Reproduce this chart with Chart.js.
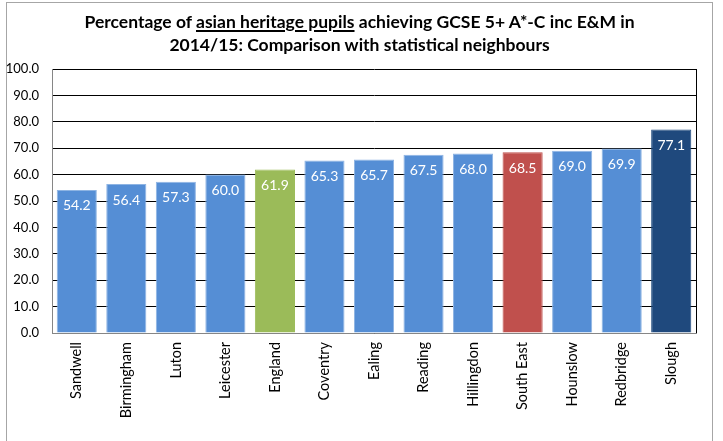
<!DOCTYPE html>
<html>
<head>
<meta charset="utf-8">
<script src="https://cdn.jsdelivr.net/npm/chart.js@4/dist/chart.umd.min.js"></script>
<style>
  html, body { margin: 0; padding: 0; background: #fff; }
  #wrap { position: relative; width: 723px; height: 441px; overflow: hidden; }
  #frame { position: absolute; left: 6px; top: 2px; width: 707px; height: 460px; border: 1px solid #a6a6a6; box-sizing: border-box; }
  #title { position: absolute; left: 7px; width: 705px; top: 10px; text-align: center;
           font-family: Lato, "Open Sans", sans-serif; font-weight: bold; font-size: 17.5px; line-height: 23px; color: #000; }
  #title u { text-decoration-thickness: 1.5px; text-underline-offset: 2px; }
  canvas { position: absolute; left: 0; top: 0; }
</style>
</head>
<body>
<div id="wrap">
  <div id="frame"></div>
  <canvas id="c" width="723" height="441"></canvas>
  <div id="title">Percentage of <u>asian heritage pupils</u> achieving GCSE 5+ A*-C inc E&amp;M in<br>2014/15: Comparison with statistical neighbours</div>
</div>
<script>
const categories = ["Sandwell","Birmingham","Luton","Leicester","England","Coventry","Ealing","Reading","Hillingdon","South East","Hounslow","Redbridge","Slough"];
const values = [54.2, 56.4, 57.3, 60.0, 61.9, 65.3, 65.7, 67.5, 68.0, 68.5, 69.0, 69.9, 77.1];
const barColors = ["#558ED5","#558ED5","#558ED5","#558ED5","#9BBB59","#558ED5","#558ED5","#558ED5","#558ED5","#C0504D","#558ED5","#558ED5","#1F497D"];
const borderColors = ["#8EB4E3","#8EB4E3","#8EB4E3","#8EB4E3","#9BBB59","#8EB4E3","#8EB4E3","#8EB4E3","#8EB4E3","#C0504D","#8EB4E3","#8EB4E3","#1F497D"];
const yTicks = [0,10,20,30,40,50,60,70,80,90,100];

const FONT = "Lato, 'Open Sans', sans-serif";

const boxPlugin = {
  id: 'box',
  beforeDatasetsDraw(chart) {
    const {ctx, chartArea: a} = chart;
    ctx.save();
    ctx.strokeStyle = '#000';
    ctx.lineWidth = 1;
    ctx.beginPath();
    ctx.moveTo(Math.round(a.right) + 0.5, a.top);
    ctx.lineTo(Math.round(a.right) + 0.5, a.bottom);
    ctx.stroke();
    ctx.restore();
  }
};

const labelPlugin = {
  id: 'vals',
  afterDatasetsDraw(chart) {
    const {ctx} = chart;
    const meta = chart.getDatasetMeta(0);
    ctx.save();
    ctx.fillStyle = '#ffffff';
    ctx.font = "14px " + FONT;
    ctx.textAlign = 'center';
    ctx.textBaseline = 'middle';
    meta.data.forEach((bar, i) => {
      ctx.fillText(values[i].toFixed(1), bar.x, bar.y + 16);
    });
    ctx.restore();
  }
};

new Chart(document.getElementById('c'), {
  type: 'bar',
  data: {
    labels: categories,
    datasets: [{
      data: values,
      backgroundColor: barColors,
      borderColor: borderColors,
      borderWidth: 1,
      barPercentage: 0.81,
      categoryPercentage: 1.0
    }]
  },
  options: {
    responsive: false,
    animation: false,
    devicePixelRatio: 1,
    layout: { padding: { top: 69, right: 27, left: 0, bottom: 0 } },
    plugins: { legend: { display: false }, title: { display: false }, tooltip: { enabled: false } },
    scales: {
      y: {
        min: 0, max: 100,
        afterFit(scale) { scale.width = 52; },
        afterBuildTicks(scale) { scale.ticks = yTicks.map(v => ({ value: v })); },
        ticks: {
          padding: 13,
          color: '#000',
          font: { family: FONT, size: 13 },
          callback: v => Number(v).toFixed(1)
        },
        grid: { color: '#000', lineWidth: 1, drawTicks: false },
        border: { display: true, color: '#868686', width: 1 }
      },
      x: {
        afterFit(scale) { scale.height = 108; },
        ticks: {
          padding: 9,
          color: '#000',
          maxRotation: 90, minRotation: 90,
          autoSkip: false,
          font: { family: FONT, size: 14.5 }
        },
        grid: { display: false, drawTicks: false },
        border: { display: true, color: '#868686', width: 1 }
      }
    }
  },
  plugins: [boxPlugin, labelPlugin]
});
</script>
</body>
</html>
